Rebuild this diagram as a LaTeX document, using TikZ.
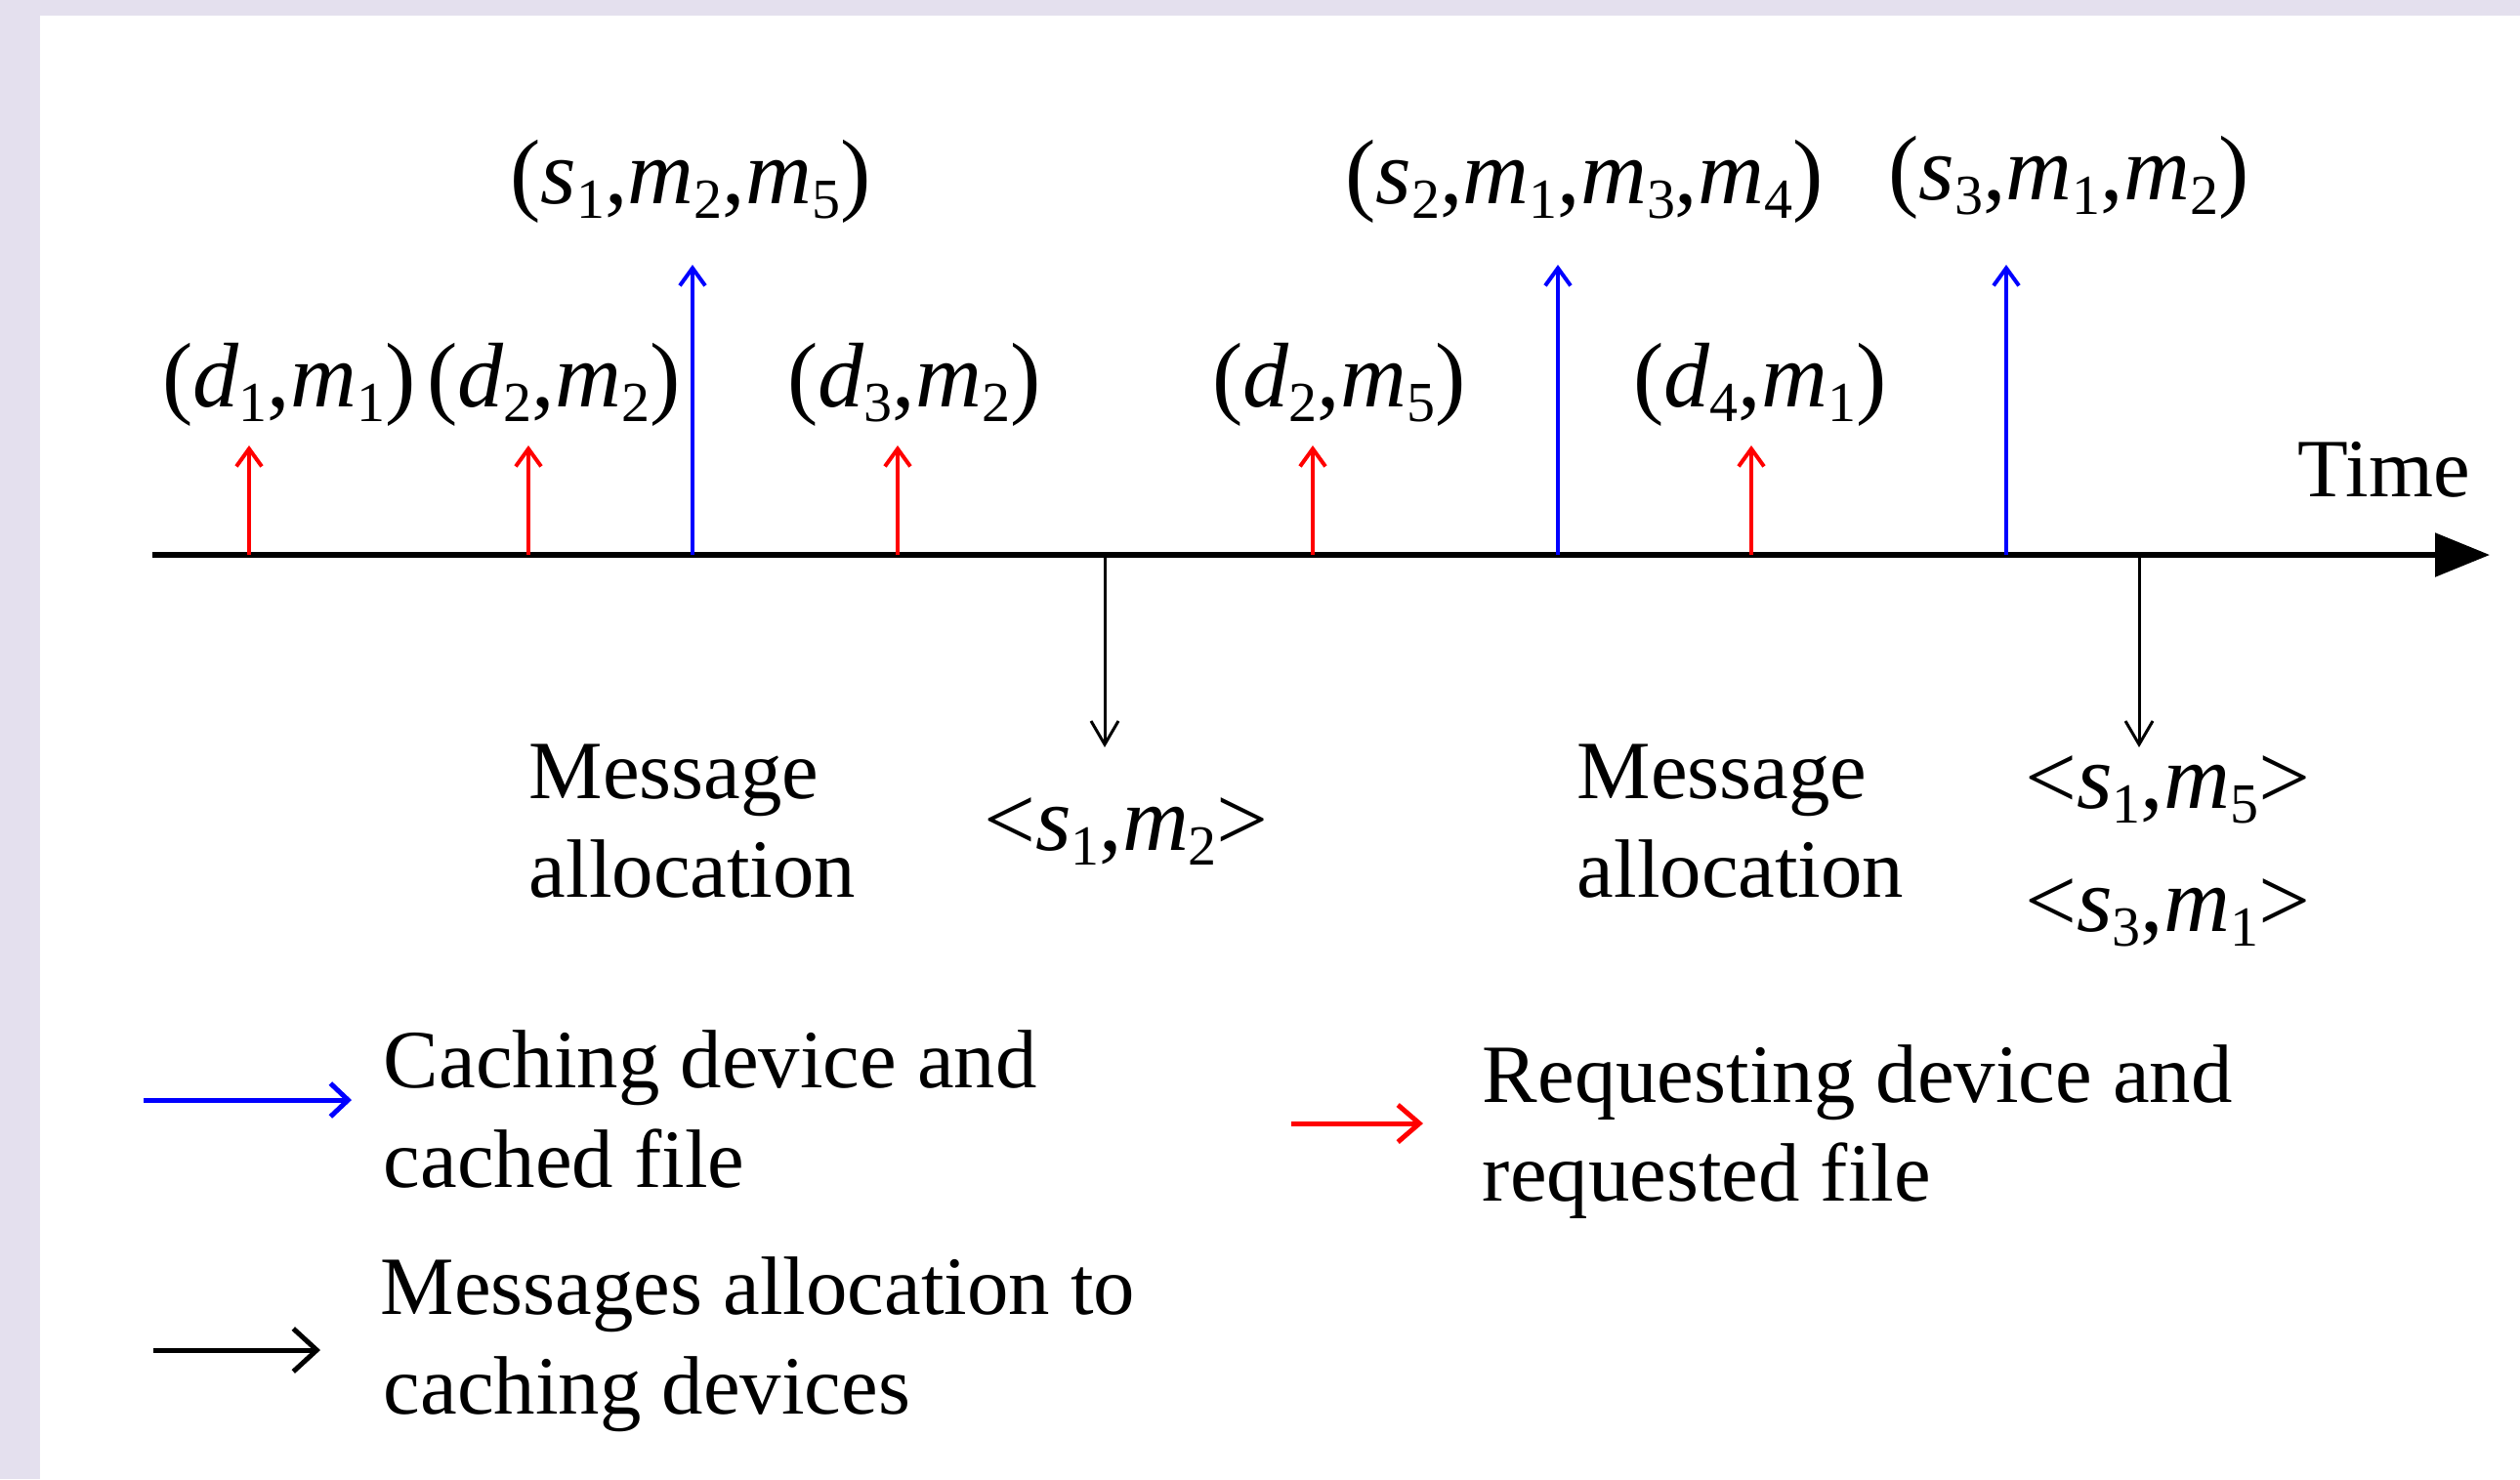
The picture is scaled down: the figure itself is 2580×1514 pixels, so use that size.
\documentclass[tikz,border=0pt]{standalone}
\usepackage{fontspec}
\setmainfont{Liberation Serif}
\usetikzlibrary{arrows.meta}
\definecolor{framebg}{RGB}{228,224,238}
\definecolor{reqred}{RGB}{255,0,0}
\definecolor{cacheblue}{RGB}{0,0,255}
% italic variable with a lowered index
\newcommand\lowsub[1]{\raisebox{-3.8pt}{\fontsize{14.5pt}{14.5pt}\selectfont #1}}
\newcommand\mvar[2]{\textit{#1}\lowsub{#2}}
\begin{document}
\begin{tikzpicture}[x=0.25pt,y=-0.25pt,
  txt/.style={inner sep=0pt, font=\fontsize{21.2pt}{25pt}\selectfont, anchor=base west},
  lbl/.style={inner sep=0pt, font=\fontsize{23.5pt}{27pt}\selectfont, anchor=base},
  axis/.style={line width=1.4pt, -{Triangle[length=14pt,width=11pt]}},
  reqarrow/.style={reqred, line width=1pt, -{Straight Barb[length=4.5pt,width=6.5pt]}},
  cachearrow/.style={cacheblue, line width=1pt, -{Straight Barb[length=4.5pt,width=6.5pt]}},
  allocarrow/.style={black, line width=0.75pt, -{Straight Barb[length=6pt,width=7pt]}},
]
% page frame
\fill[framebg] (0,0) rectangle (2580,1514);
\fill[white] (41,16) rectangle (2580,1514);
\useasboundingbox (0,0) rectangle (2580,1514);

% time axis
\coordinate (t0) at (156,568);
\coordinate (t1) at (2549,568);
\draw[axis] (t0) -- (t1);
\node[txt] (time) at (2352,508) {Time};

% requests (red)
\foreach \n/\x in {r1/255, r2/541, r3/919, r4/1344, r5/1793}{
  \coordinate (\n b) at (\x,568);
  \coordinate (\n t) at (\x,456);
  \draw[reqarrow] (\n b) -- (\n t);
}
% caching events (blue)
\foreach \n/\x in {c1/709, c2/1595, c3/2054}{
  \coordinate (\n b) at (\x,568);
  \coordinate (\n t) at (\x,271);
  \draw[cachearrow] (\n b) -- (\n t);
}
% message allocations (black)
\foreach \n/\x in {a1/1131, a2/2190}{
  \coordinate (\n b) at (\x,568);
  \coordinate (\n t) at (\x,765);
  \draw[allocarrow] (\n b) -- (\n t);
}

% request labels
\node[lbl] (lr1) at (296,416) {(\mvar{d}{1},\mvar{m}{1})};
\node[lbl] (lr2) at (567,416) {(\mvar{d}{2},\mvar{m}{2})};
\node[lbl] (lr3) at (936,416) {(\mvar{d}{3},\mvar{m}{2})};
\node[lbl] (lr4) at (1371,416) {(\mvar{d}{2},\mvar{m}{5})};
\node[lbl] (lr5) at (1802,416) {(\mvar{d}{4},\mvar{m}{1})};

% caching labels
\node[lbl] (lc1) at (707,208) {(\mvar{s}{1},\mvar{m}{2},\mvar{m}{5})};
\node[lbl] (lc2) at (1622,208) {(\mvar{s}{2},\mvar{m}{1},\mvar{m}{3},\mvar{m}{4})};
\node[lbl] (lc3) at (2118,204) {(\mvar{s}{3},\mvar{m}{1},\mvar{m}{2})};

% allocation results
\node[lbl] (la1) at (1153,870) {<\mvar{s}{1},\mvar{m}{2}>};
\node[lbl] (la2) at (2219,827) {<\mvar{s}{1},\mvar{m}{5}>};
\node[lbl] (la3) at (2219,953) {<\mvar{s}{3},\mvar{m}{1}>};

\node[txt] (ma1a) at (541,817) {Message};
\node[txt] (ma1b) at (541,918) {allocation};
\node[txt] (ma2a) at (1614,817) {Message};
\node[txt] (ma2b) at (1614,918) {allocation};

% legend
\coordinate (kc0) at (147,1126);  \coordinate (kc1) at (360,1126);
\draw[cacheblue, line width=1.25pt, -{Straight Barb[length=4.5pt,width=8.5pt]}] (kc0) -- (kc1);
\node[txt] (kct1) at (392,1113) {Caching device and};
\node[txt] (kct2) at (392,1215) {cached file};

\coordinate (ka0) at (157,1382);  \coordinate (ka1) at (328,1382);
\draw[black, line width=1.25pt, -{Straight Barb[length=6pt,width=11pt]}] (ka0) -- (ka1);
\node[txt] (kat1) at (389,1345) {Messages allocation to};
\node[txt] (kat2) at (392,1447) {caching devices};

\coordinate (kr0) at (1322,1150);  \coordinate (kr1) at (1457,1150);
\draw[reqred, line width=1.25pt, -{Straight Barb[length=5.5pt,width=9.5pt]}] (kr0) -- (kr1);
\node[txt] (krt1) at (1517,1128) {Requesting device and};
\node[txt] (krt2) at (1517,1229) {requested file};
\end{tikzpicture}
\end{document}
